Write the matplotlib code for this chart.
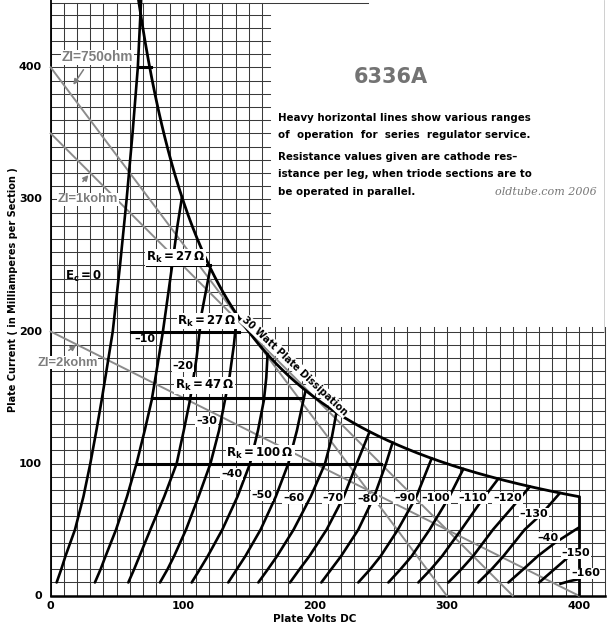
import matplotlib
matplotlib.use('Agg')
import matplotlib.pyplot as plt
import numpy as np

# ---------------- data ----------------
grid_labels = ["-10", "-20", "-30", "-40", "-50", "-60", "-70", "-80", "-90",
               "-100", "-110", "-120", "-130", "-40", "-150", "-160"]

# plate characteristic curves (Plate Volts, Plate mA) for Ec = 0 ... -160
curve_V = [
    [4.5, 8, 11.2, 18.4, 24.8, 30, 34.6, 38.6, 43, 47, 52.5, 57.5, 62, 66, 68.5],
    [33.5, 37.8, 41.6, 49.5, 57.8, 65, 71.2, 76.5, 81, 85, 92, 96, 99.5],
    [58.8, 63.2, 67.3, 75.5, 86, 95.4, 100.8, 105.5, 110.5, 114.4, 120.7],
    [82.8, 88.5, 93.5, 102.5, 112, 121, 127.5, 132, 135.5, 138.8, 141],
    [106.8, 113, 119, 130, 141.5, 151, 157, 161.5, 163.3, 164.3],
    [134.5, 141, 147.5, 159, 170.5, 180, 186.5, 191.4, 193],
    [157.3, 164.5, 171.5, 184, 197, 207.8, 213, 216.5],
    [181.3, 188.5, 196, 209, 222, 231.8, 241.5],
    [205, 212.5, 220, 233, 245, 254, 259],
    [233, 242, 250, 263, 277, 288.6],
    [255.8, 265, 273.5, 287, 302, 312.6],
    [278.5, 288, 296.5, 311, 325, 339],
    [301.2, 311, 320, 335, 348, 363],
    [323.9, 334, 343, 359, 372, 385.8],
    [346.7, 358, 369, 382, 396, 400],
    [370, 381.5, 393, 400],
    [386, 393, 400],
]
curve_I = [
    [10, 20, 30, 50, 75, 100, 125, 148, 175, 200, 250, 300, 350, 400, 451],
    [10, 20, 30, 50, 75, 100, 125, 148, 175, 200, 250, 280, 302],
    [10, 20, 30, 50, 75, 100, 125, 148, 180, 214, 247],
    [10, 20, 30, 50, 75, 100, 125, 148, 166, 190, 212],
    [10, 20, 30, 50, 75, 100, 125, 148, 165, 183],
    [10, 20, 30, 50, 75, 100, 125, 148, 155],
    [10, 20, 30, 50, 75, 100, 120, 139],
    [10, 20, 30, 50, 75, 100, 124],
    [10, 20, 30, 50, 75, 100, 116],
    [10, 20, 30, 50, 75, 104],
    [10, 20, 30, 50, 75, 96],
    [10, 20, 30, 50, 70, 88.5],
    [10, 20, 30, 50, 65, 82.6],
    [10, 20, 30, 50, 62, 77.8],
    [10, 20, 30, 40, 49, 51.5],
    [10, 20, 30, 35],
    [9, 11, 12.5],
]

# heavy horizontal "regulator range" lines: (mA, V start, V end)
range_I = [400, 250, 200, 150, 100]
range_V0 = [66, 72.7, 61, 76.5, 65]
range_V1 = [76, 120.7, 143, 191, 250]

# load lines (V intercept, mA intercept)
load_names = ["ZI=750ohm", "ZI=1kohm", "ZI=2kohm"]
load_V = [300, 350, 400]
load_I = [400, 350, 200]

x_ticks = [0, 100, 200, 300, 400]
y_ticks = [0, 100, 200, 300, 400]

# ---------------- figure ----------------
fig = plt.figure(figsize=(6.07, 6.25), dpi=100)
ax = fig.add_axes([0, 0, 1, 1])
ax.set_xlim(-38.4, 421.4)
ax.set_ylim(-22.2, 451)
ax.axis('off')

gc = '#3a3a3a'
glw = 0.75
# lower grid
for v in range(0, 421, 10):
    top = 203.5 if v >= 170 else 200
    ax.plot([v, v], [0, top], color=gc, lw=glw, zorder=1)
for i in range(0, 201, 10):
    ax.plot([0, 420], [i, i], color=gc, lw=glw, zorder=1)
# upper grid
for v in range(0, 161, 10):
    ax.plot([v, v], [200, 449], color=gc, lw=glw, zorder=1)
for i in range(210, 450, 10):
    ax.plot([0, 166], [i, i], color=gc, lw=glw, zorder=1)
ax.plot([0, 240], [449, 449], color=gc, lw=glw, zorder=1)
ax.plot([0, 0], [0, 451], color='black', lw=1.3, zorder=2)
ax.plot([0, 420], [0, 0], color='black', lw=1.8, zorder=2)
ax.plot([419.5, 419.5], [200, 451], color='#c8c8c8', lw=0.6, zorder=1)

# load lines
lc = '#8c8c8c'
for V, I in zip(load_V, load_I):
    ax.plot([0, V], [I, 0], color=lc, lw=1.4, zorder=3)

# 30 W dissipation curve
vv = np.linspace(66.5, 400, 400)
ax.plot(vv, 30000.0 / vv, color='black', lw=2.0, zorder=4)
ax.plot([400, 400], [75, 1], color='black', lw=2.0, zorder=4)

# characteristic curves
for V, I in zip(curve_V, curve_I):
    ax.plot(V, I, color='black', lw=1.9, zorder=4, solid_capstyle='round',
            solid_joinstyle='round')

# heavy range lines
for I, v0, v1 in zip(range_I, range_V0, range_V1):
    ax.plot([v0, v1], [I, I], color='black', lw=2.2, zorder=4)

# ---------------- texts ----------------
tf = dict(fontfamily='DejaVu Sans', fontweight='bold')
for t in x_ticks:
    ax.text(t, -7.8, str(t), ha='center', va='center', fontsize=8, **tf)
for t in y_ticks:
    ax.text(-6.5, t, str(t), ha='right', va='center', fontsize=8, **tf)
ax.text(200, -17.3, "Plate Volts DC", ha='center', va='center', fontsize=7.5, **tf)
ax.text(-28.6, 232, "Plate Current ( in Milliamperes per Section )", rotation=90,
        ha='center', va='center', fontsize=7, **tf)

ax.text(258, 393, "6336A", ha='center', va='center', fontsize=15, color='#737373',
        fontfamily='DejaVu Sans', fontweight='bold')
desc = ["Heavy horizontal lines show various ranges",
        "of  operation  for  series  regulator service.",
        "Resistance values given are cathode res\u2013",
        "istance per leg, when triode sections are to",
        "be operated in parallel."]
desc_y = [362, 349, 332, 319, 306]
for s, y in zip(desc, desc_y):
    ax.text(172, y, s, ha='left', va='center', fontsize=7.4, **tf)
ax.text(414, 306, "oldtube.com 2006", ha='right', va='center', fontsize=8.0,
        fontfamily='DejaVu Serif', fontstyle='italic', color='#777777')

# load line annotations
wb = dict(facecolor='white', edgecolor='none', pad=0.4)
ann = dict(fontsize=9.3, color='#7d7d7d', fontfamily='Liberation Sans', fontweight='bold')
arr = dict(arrowstyle='-|>', color='#7d7d7d', lw=1.1, mutation_scale=8)
ax.text(8.5, 407.5, "ZI=750ohm", ha='left', va='center', bbox=wb, zorder=6,
        **dict(ann, fontsize=9.8))
ax.annotate("", xy=(16, 385), xytext=(26, 400), arrowprops=arr, zorder=6)
ax.text(5.5, 300, "ZI=1kohm", ha='left', va='center', bbox=wb, zorder=6, **ann)
ax.annotate("", xy=(30, 320), xytext=(23, 312), arrowprops=arr, zorder=6)
ax.text(-10, 176.3, "ZI=2kohm", ha='left', va='center', bbox=wb, zorder=6, **ann)
ax.annotate("", xy=(21, 191), xytext=(12, 184.5), arrowprops=arr, zorder=6)

# curve labels
lb = dict(facecolor='white', edgecolor='none', pad=0.5)
lab_x = [71, 100, 118, 137, 160, 184, 214, 240, 268, 292, 320, 346, 366, 377, 398, 405]
lab_y = [194, 174, 132, 92, 76, 74, 74, 73, 74, 74, 74, 74, 62, 44, 32, 17]
for s, x, y in zip(grid_labels, lab_x, lab_y):
    ax.text(x, y, s.replace('-', '\u2013'), ha='center', va='center', fontsize=8,
            bbox=lb, zorder=5, **tf)
ax.text(11, 242, r"$\mathbf{E_c=0}$", ha='left', va='center', fontsize=8.5, zorder=5, **tf)
rk_txt = [r"$\mathbf{R_k=27\,\Omega}$", r"$\mathbf{R_k=27\,\Omega}$",
          r"$\mathbf{R_k=47\,\Omega}$", r"$\mathbf{R_k=100\,\Omega}$"]
rk_x = [72, 96, 94, 133]
rk_y = [256, 208, 159, 108]
for s, x, y in zip(rk_txt, rk_x, rk_y):
    ax.text(x, y, s, ha='left', va='center', fontsize=8.5, bbox=lb, zorder=5)

ax.text(185, 174, "30 Watt Plate Dissipation", rotation=-43, rotation_mode='anchor',
        ha='center', va='center', fontsize=7,
        bbox=dict(facecolor='white', edgecolor='none', pad=0.8), zorder=5, **tf)

fig.savefig('out.png', dpi=100)
